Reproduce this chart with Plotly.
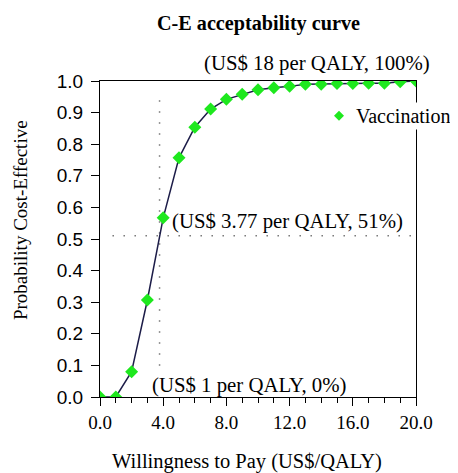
import plotly.graph_objects as go

# Data
wtp = [0, 1, 2, 3, 4, 5, 6, 7, 8, 9, 10, 11, 12, 13, 14, 15, 16, 17, 18, 19, 20]
prob = [0.0, 0.0, 0.08, 0.307, 0.567, 0.757, 0.854, 0.911, 0.942, 0.958, 0.972,
        0.979, 0.983, 0.99, 0.99, 0.992, 0.992, 0.993, 0.993, 0.998, 1.0]
series_name = "Vaccination"
threshold_x = 3.77
threshold_y = 0.51
x_tick_vals = [0, 4, 8, 12, 16, 20]
x_tick_text = ["0.0", "4.0", "8.0", "12.0", "16.0", "20.0"]
y_tick_vals = [0, 0.1, 0.2, 0.3, 0.4, 0.5, 0.6, 0.7, 0.8, 0.9, 1.0]
y_tick_text = ["0.0", "0.1", "0.2", "0.3", "0.4", "0.5", "0.6", "0.7", "0.8", "0.9", "1.0"]
labels_in = [
    ("(US$ 3.77 per QALY, 51%)", 4.43, 0.557),
    ("(US$ 1 per QALY, 0%)", 3.16, 0.038),
]
label_top = ("(US$ 18 per QALY, 100%)", 6.45, 1.057)

SERIF = "Liberation Serif, Times New Roman, serif"
SANS = "Liberation Sans, Arial, sans-serif"
GREEN = "#1ee81e"

fig = go.Figure()

# dotted reference lines
fig.add_trace(go.Scatter(x=[threshold_x, threshold_x], y=[0.1, 0.95], mode="lines",
                         line=dict(color="#333333", width=1.5, dash="1px,10px"),
                         showlegend=False, hoverinfo="skip"))
fig.add_trace(go.Scatter(x=[0.8, 19.7], y=[threshold_y, threshold_y], mode="lines",
                         line=dict(color="#333333", width=1.5, dash="1px,10px"),
                         showlegend=False, hoverinfo="skip"))

# curve line
fig.add_trace(go.Scatter(x=wtp, y=prob, mode="lines",
                         line=dict(color="#1c1c48", width=1.5),
                         showlegend=False, hoverinfo="skip"))
# markers
fig.add_trace(go.Scatter(x=wtp, y=prob, mode="markers", name=series_name, showlegend=False,
                         marker=dict(symbol="diamond", size=10, color=GREEN,
                                     line=dict(width=0))))

annotations = []
for text, ax, ay in labels_in:
    annotations.append(dict(x=ax, y=ay, xref="x", yref="y", text=text, showarrow=False,
                            xanchor="left", yanchor="middle",
                            font=dict(family=SERIF, size=20.8, color="black")))
annotations.append(dict(x=label_top[1], y=label_top[2], xref="x", yref="paper",
                        text=label_top[0], showarrow=False,
                        xanchor="left", yanchor="middle",
                        font=dict(family=SERIF, size=20.8, color="black")))
annotations.append(dict(x=0.5, y=1, xref="paper", yref="paper", yshift=58,
                        text="<b>C-E acceptability curve</b>", showarrow=False,
                        xanchor="center", yanchor="middle",
                        font=dict(family=SERIF, size=20.2, color="black")))
annotations.append(dict(x=0.465, y=0, xref="paper", yref="paper", yshift=-64,
                        text="Willingness to Pay (US$/QALY)", showarrow=False,
                        xanchor="center", yanchor="middle",
                        font=dict(family=SERIF, size=20.5, color="black")))
annotations.append(dict(x=0, y=0.56, xref="paper", yref="paper", xshift=-80,
                        text="Probability Cost-Effective", showarrow=False, textangle=-90,
                        xanchor="center", yanchor="middle",
                        font=dict(family=SERIF, size=19, color="black")))
# legend text (manual legend)
annotations.append(dict(x=1, y=0.89, xref="paper", yref="paper", xshift=-63,
                        text=series_name, showarrow=False, xanchor="left", yanchor="middle",
                        bgcolor="white", borderpad=2,
                        font=dict(family=SERIF, size=20, color="black")))

shapes = [
    # legend glyph
    dict(type="path", xref="paper", yref="paper", xsizemode="pixel", ysizemode="pixel",
         xanchor=1, yanchor=0.89, path="M -77 -5 L -72 0 L -77 5 L -82 0 Z",
         fillcolor=GREEN, line=dict(width=0)),
]

# page body has an 8px margin, so the figure is 8px smaller on each side
fig.update_layout(
    width=450, height=465,
    margin=dict(l=92, r=42, t=73, b=76, autoexpand=False),
    paper_bgcolor="white", plot_bgcolor="white",
    showlegend=False,
    annotations=annotations,
    shapes=shapes,
    xaxis=dict(range=[0, 20], tickvals=x_tick_vals, ticktext=x_tick_text,
               showgrid=False, zeroline=False, showline=True, linecolor="black",
               linewidth=1, mirror=True, ticks="outside", ticklen=8, tickcolor="black",
               tickfont=dict(family=SERIF, size=19, color="black"),
               minor=dict(dtick=1, ticks="outside", ticklen=5, tickcolor="black", showgrid=False)),
    yaxis=dict(range=[0, 1.0], tickvals=y_tick_vals, ticktext=y_tick_text,
               showgrid=False, zeroline=False, showline=True, linecolor="black",
               linewidth=1, mirror=True, ticks="outside", ticklen=8, tickcolor="black",
               ticklabelstandoff=4,
               tickfont=dict(family=SANS, size=19, color="black")),
)

fig.write_html("out.html")
